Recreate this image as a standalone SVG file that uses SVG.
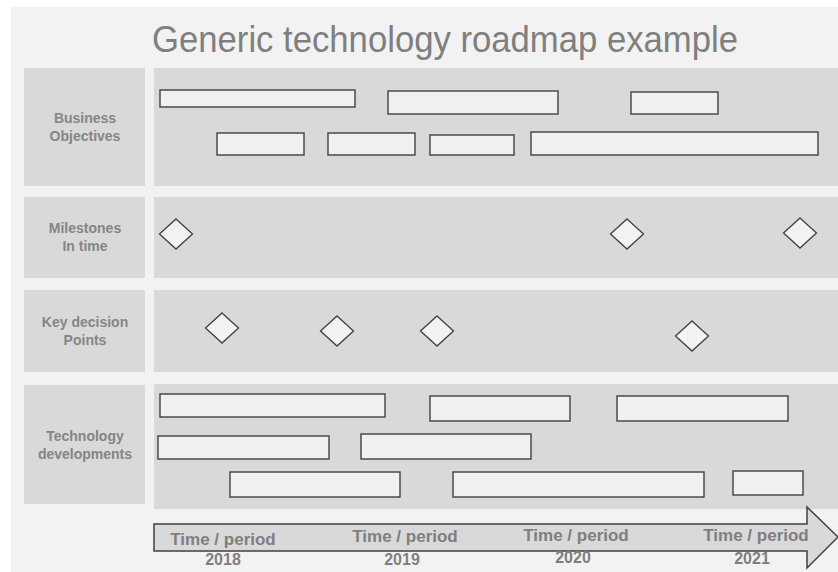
<svg xmlns="http://www.w3.org/2000/svg" width="838" height="572" viewBox="0 0 838 572">
<style>
.bg{fill:#f2f2f2}
.band{fill:#d9d9d9}
.bar{fill:#f0f0f0;stroke:#404040;stroke-width:1.4}
.dia{fill:#f2f2f2;stroke:#404040;stroke-width:1.3}
.lbl{font-family:"Liberation Sans",Arial,sans-serif;font-weight:bold;font-size:14px;fill:#858585;text-anchor:middle}
.tm{font-family:"Liberation Sans",Arial,sans-serif;font-weight:bold;font-size:17px;fill:#7f7f7f;text-anchor:middle}
.yr{font-family:"Liberation Sans",Arial,sans-serif;font-weight:bold;font-size:16px;fill:#7f7f7f;text-anchor:middle}
.title{font-family:"Liberation Sans",Arial,sans-serif;font-size:37px;fill:#7f7f7f;text-anchor:middle}
</style>
<defs>
<path id="d" d="M0,-15 L16.5,0 L0,15 L-16.5,0 Z"/>
</defs>
<rect class="bg" x="11" y="7" width="827" height="565"/>
<text class="title" x="445" y="52" textLength="586" lengthAdjust="spacingAndGlyphs">Generic technology roadmap example</text>

<g id="row-business">
<rect class="band" x="24" y="68" width="121" height="118"/>
<rect class="band" x="154" y="68" width="684" height="118"/>
<text class="lbl" x="85" y="123">Business</text>
<text class="lbl" x="85" y="141">Objectives</text>
<rect class="bar" x="160" y="90" width="195" height="17"/>
<rect class="bar" x="388" y="91" width="170" height="23"/>
<rect class="bar" x="631" y="92" width="87" height="22"/>
<rect class="bar" x="217" y="133" width="87" height="22"/>
<rect class="bar" x="328" y="133" width="87" height="22"/>
<rect class="bar" x="430" y="135" width="84" height="20"/>
<rect class="bar" x="531" y="132" width="287" height="23"/>
</g>

<g id="row-milestones">
<rect class="band" x="24" y="197" width="121" height="81"/>
<rect class="band" x="154" y="197" width="684" height="81"/>
<text class="lbl" x="85" y="233">Milestones</text>
<text class="lbl" x="85" y="251">In time</text>
<use href="#d" class="dia" x="176" y="234"/>
<use href="#d" class="dia" x="627" y="234"/>
<use href="#d" class="dia" x="800" y="233"/>
</g>

<g id="row-decisions">
<rect class="band" x="24" y="290" width="121" height="82"/>
<rect class="band" x="154" y="290" width="684" height="82"/>
<text class="lbl" x="85" y="327">Key decision</text>
<text class="lbl" x="85" y="345">Points</text>
<use href="#d" class="dia" x="222" y="328"/>
<use href="#d" class="dia" x="337" y="331"/>
<use href="#d" class="dia" x="437" y="331"/>
<use href="#d" class="dia" x="692" y="336"/>
</g>

<g id="row-technology">
<rect class="band" x="24" y="385" width="121" height="119"/>
<rect class="band" x="154" y="384" width="684" height="125"/>
<text class="lbl" x="85" y="441">Technology</text>
<text class="lbl" x="85" y="459">developments</text>
<rect class="bar" x="160" y="394" width="225" height="23"/>
<rect class="bar" x="430" y="396" width="140" height="25"/>
<rect class="bar" x="617" y="396" width="171" height="25"/>
<rect class="bar" x="158" y="436" width="171" height="23"/>
<rect class="bar" x="361" y="434" width="170" height="25"/>
<rect class="bar" x="230" y="472" width="170" height="25"/>
<rect class="bar" x="453" y="472" width="251" height="25"/>
<rect class="bar" x="733" y="471" width="70" height="24"/>
</g>

<g id="timeline">
<path d="M154,524 L807,524 L807,507 L838,537 L807,568 L807,551 L154,551 Z" fill="#d9d9d9" stroke="#404040" stroke-width="1.5"/>
<text class="tm" x="223" y="545">Time / period</text>
<text class="tm" x="405" y="542">Time / period</text>
<text class="tm" x="576" y="541">Time / period</text>
<text class="tm" x="756" y="541">Time / period</text>
<text class="yr" x="223" y="565">2018</text>
<text class="yr" x="402" y="565">2019</text>
<text class="yr" x="573" y="563">2020</text>
<text class="yr" x="752" y="564">2021</text>
</g>
</svg>
